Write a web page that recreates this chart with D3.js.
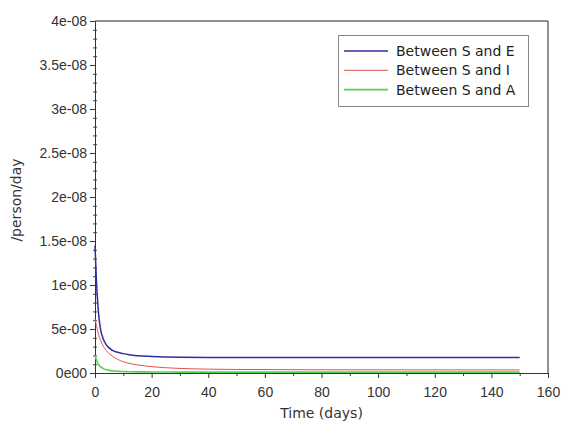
<!DOCTYPE html>
<html>
<head>
<meta charset="utf-8">
<script src="https://cdn.jsdelivr.net/npm/d3@7"></script>
<style>
  body { margin: 0; background: #fff; }
  svg { display: block; font-family: "DejaVu Sans", sans-serif; }
  .tick text { fill: #333; font-size: 14px; }
</style>
</head>
<body>
<div id="chart"></div>
<script>
// time points (days) and contact rates (/person/day)
var days     = [0, 0.5, 1, 1.5, 2, 3, 4, 5, 6, 8, 10, 12, 15, 20, 25, 30, 40, 50, 75, 100, 125, 150];
var rateSE   = [14.5e-9, 10.5e-9, 7.8e-9, 6.0e-9, 4.9e-9, 3.8e-9, 3.2e-9, 2.85e-9, 2.6e-9, 2.35e-9, 2.2e-9, 2.08e-9, 1.97e-9, 1.88e-9, 1.82e-9, 1.79e-9, 1.77e-9, 1.76e-9, 1.75e-9, 1.75e-9, 1.75e-9, 1.75e-9];
var rateSI   = [6.2e-9, 5.4e-9, 4.7e-9, 4.1e-9, 3.7e-9, 3.0e-9, 2.55e-9, 2.2e-9, 1.95e-9, 1.55e-9, 1.28e-9, 1.1e-9, 0.92e-9, 0.72e-9, 0.6e-9, 0.52e-9, 0.44e-9, 0.4e-9, 0.37e-9, 0.36e-9, 0.35e-9, 0.35e-9];
var rateSA   = [2.0e-9, 1.5e-9, 1.1e-9, 0.85e-9, 0.7e-9, 0.5e-9, 0.38e-9, 0.3e-9, 0.25e-9, 0.2e-9, 0.17e-9, 0.15e-9, 0.13e-9, 0.12e-9, 0.11e-9, 0.1e-9, 0.1e-9, 0.1e-9, 0.1e-9, 0.1e-9, 0.1e-9, 0.1e-9];
var seriesNames = ["Between S and E", "Between S and I", "Between S and A"];
var colors = ["#2e2ea0", "#e0524f", "#4fd44f"];
var widths = [1.5, 1, 1.6];
var xTicks = [0, 20, 40, 60, 80, 100, 120, 140, 160];
var yTicks = [0, 5e-9, 1e-8, 1.5e-8, 2e-8, 2.5e-8, 3e-8, 3.5e-8, 4e-8];
var yTickLabels = ["0e00", "5e-09", "1e-08", "1.5e-08", "2e-08", "2.5e-08", "3e-08", "3.5e-08", "4e-08"];

var W = 561, H = 421;
var margin = {left: 95, right: 13, top: 21, bottom: 48};

var svg = d3.select("#chart").append("svg")
  .attr("width", W)
  .attr("height", H);

var x = d3.scaleLinear().domain([0, 160]).range([margin.left, W - margin.right]);
var y = d3.scaleLinear().domain([0, 4e-8]).range([H - margin.bottom, margin.top]);

// frame (top and right)
svg.append("path")
  .attr("d", "M" + x(0) + "," + y(4e-8) + "H" + x(160) + "V" + y(0))
  .attr("fill", "none")
  .attr("stroke", "#222")
  .attr("stroke-width", 1);

// minor ticks
svg.append("g")
  .attr("transform", "translate(0," + y(0) + ")")
  .call(d3.axisBottom(x).tickValues(d3.range(10, 160, 20)).tickSize(3).tickFormat(""))
  .call(function(g){ g.select(".domain").remove(); g.selectAll("line").attr("stroke", "#333"); });

svg.append("g")
  .attr("transform", "translate(" + (x(0) + 2) + ",0)")
  .call(d3.axisLeft(y).tickValues(d3.range(1, 40).filter(function(d){ return d % 5; }).map(function(d){ return d * 1e-9; })).tickSize(4).tickFormat(""))
  .call(function(g){ g.select(".domain").remove(); g.selectAll("line").attr("stroke", "#444"); });

// major axes
svg.append("g")
  .attr("transform", "translate(0," + y(0) + ")")
  .call(d3.axisBottom(x).tickValues(xTicks).tickSize(5).tickSizeOuter(0).tickPadding(9))
  .call(function(g){ g.selectAll("line, .domain").attr("stroke", "#333"); });

svg.append("g")
  .attr("transform", "translate(" + x(0) + ",0)")
  .call(d3.axisLeft(y).tickValues(yTicks).tickSize(5).tickSizeOuter(0).tickPadding(3)
    .tickFormat(function(d, i){ return yTickLabels[i]; }))
  .call(function(g){ g.selectAll("line, .domain").attr("stroke", "#333"); });

// axis titles
svg.append("text")
  .attr("x", (x(0) + x(160)) / 2)
  .attr("y", 418)
  .attr("text-anchor", "middle")
  .attr("font-size", 14)
  .attr("fill", "#333")
  .text("Time (days)");

svg.append("text")
  .attr("transform", "translate(21," + ((y(0) + y(4e-8)) / 2 + 3) + ") rotate(-90)")
  .attr("text-anchor", "middle")
  .attr("font-size", 14)
  .attr("fill", "#333")
  .text("/person/day");

// curves
var series = [rateSE, rateSI, rateSA];
var line = d3.line()
  .x(function(d, i){ return x(days[i]); })
  .y(function(d){ return y(d); })
  .curve(d3.curveMonotoneX);

svg.selectAll("path.series")
  .data(series)
  .enter()
  .append("path")
  .attr("class", "series")
  .attr("d", line)
  .attr("fill", "none")
  .attr("stroke", function(d, i){ return colors[i]; })
  .attr("stroke-width", function(d, i){ return widths[i]; });

// legend
var legend = svg.append("g");
legend.append("rect")
  .attr("x", 338.5).attr("y", 35.5)
  .attr("width", 190).attr("height", 71)
  .attr("fill", "#fff")
  .attr("stroke", "#888");

var rows = legend.selectAll("g.row")
  .data(seriesNames)
  .enter()
  .append("g")
  .attr("class", "row")
  .attr("transform", function(d, i){ return "translate(0," + (51 + i * 19.3) + ")"; });

rows.append("line")
  .attr("x1", 344).attr("x2", 388)
  .attr("stroke", function(d, i){ return colors[i]; })
  .attr("stroke-width", function(d, i){ return widths[i]; });

rows.append("text")
  .attr("x", 396)
  .attr("dy", "0.35em")
  .attr("font-size", 14)
  .attr("fill", "#222")
  .text(function(d){ return d; });
</script>
</body>
</html>
